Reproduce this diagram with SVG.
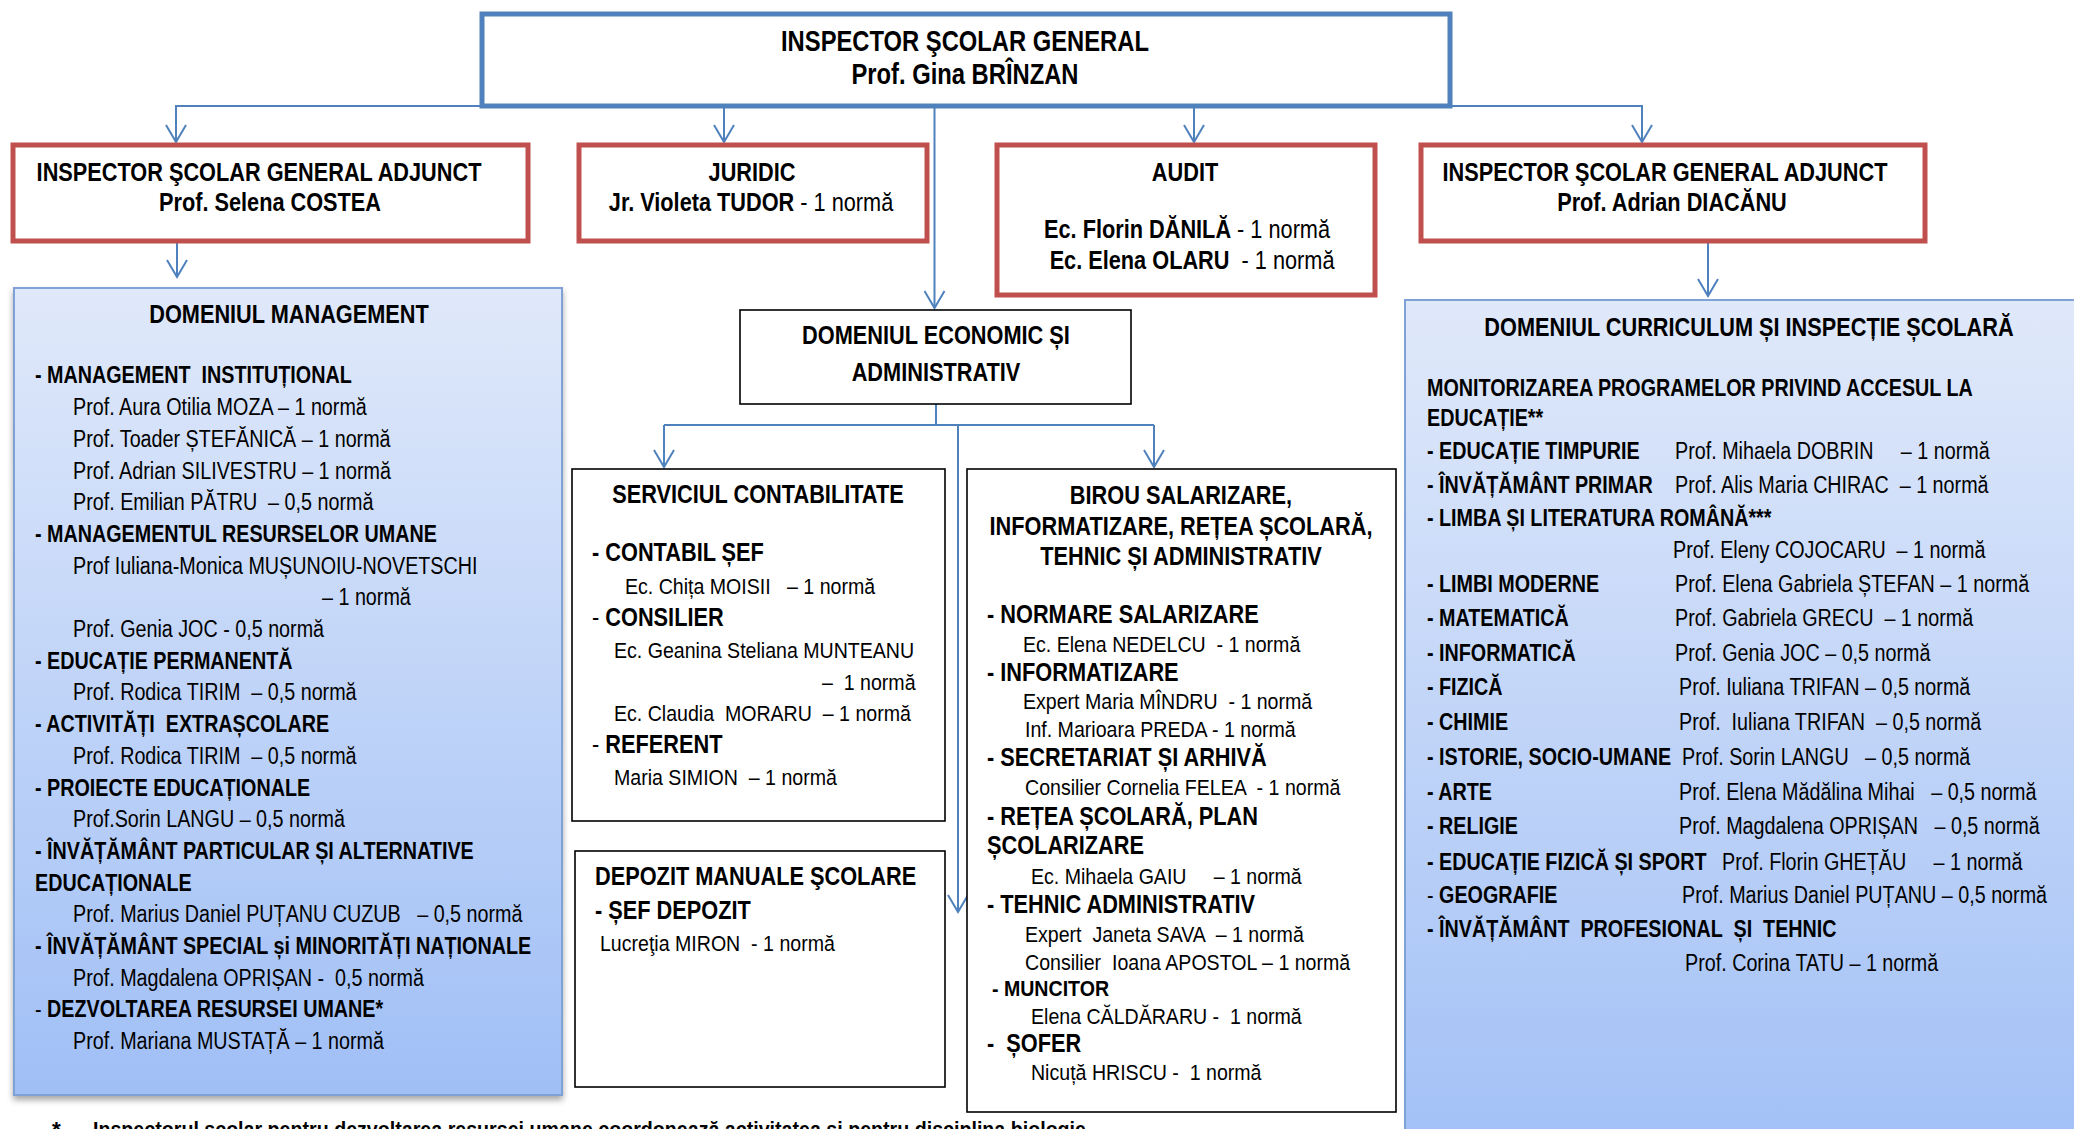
<svg xmlns="http://www.w3.org/2000/svg" width="2074" height="1129" viewBox="0 0 2074 1129" xml:space="preserve">
<defs>
<style>
text{white-space:pre}
.nb,.nr{font-family:'Liberation Sans',Arial,sans-serif;fill:#000;transform-box:fill-box;transform-origin:left center;transform:scaleX(0.82)}
.nb{font-weight:700}
.nr{font-weight:400}
.w84{transform:scaleX(0.84)}
.mb,.mr{font-family:'Liberation Sans',Arial,sans-serif;fill:#000;transform-box:fill-box;transform-origin:left center;transform:scaleX(0.87)}
.mb{font-weight:700}
.mr{font-weight:400}
.ab{font-family:'Liberation Sans',Arial,sans-serif;font-weight:700;fill:#000}
.b{font-weight:700}
.r{font-weight:400}
.f29{font-size:29px}
.f26{font-size:26.5px}
.f25{font-size:25px}
.f23{font-size:23.5px}
.f22{font-size:22.5px}
.mid{text-anchor:middle;transform-origin:center}
.conn{fill:none;stroke:#4F81BD;stroke-width:2}
.redbox{fill:#fff;stroke:#C0504D;stroke-width:5}
.blkbox{fill:#fff;stroke:#000;stroke-width:1.6}
.dombox{stroke:#7FA2D6;stroke-width:2}
</style>
<linearGradient id="grad" x1="0" y1="0" x2="0" y2="1">
<stop offset="0" stop-color="#E0E9FA"/>
<stop offset="1" stop-color="#A0BFF6"/>
</linearGradient>
<filter id="shadow" x="-5%" y="-5%" width="115%" height="115%">
<feDropShadow dx="0" dy="4" stdDeviation="3" flood-color="#000" flood-opacity="0.35"/>
</filter>
<marker id="arr" markerUnits="userSpaceOnUse" orient="auto" markerWidth="40" markerHeight="40" refX="0" refY="0" viewBox="-20 -20 40 40" overflow="visible">
<path d="M-17,-10 L0,0 L-17,10" fill="none" stroke="#4F81BD" stroke-width="2"/>
</marker>
</defs>
<rect x="0" y="0" width="2074" height="1129" fill="#fff"/>

<g id="connectors">
<path class="conn" d="M480,106 H176 V142" marker-end="url(#arr)"/>
<path class="conn" d="M724,106 V142" marker-end="url(#arr)"/>
<path class="conn" d="M934.5,106 V308" marker-end="url(#arr)"/>
<path class="conn" d="M1194,106 V142" marker-end="url(#arr)"/>
<path class="conn" d="M1450,106 H1642 V142" marker-end="url(#arr)"/>
<path class="conn" d="M177,243 V277" marker-end="url(#arr)"/>
<path class="conn" d="M1708,243 V296" marker-end="url(#arr)"/>
<path class="conn" d="M936,404 V425"/>
<path class="conn" d="M664,425 H1154"/>
<path class="conn" d="M664,425 V467" marker-end="url(#arr)"/>
<path class="conn" d="M1154,425 V467" marker-end="url(#arr)"/>
<path class="conn" d="M958,425 V912" marker-end="url(#arr)"/>
</g>

<g id="inspector-general">
<rect x="482" y="14" width="968" height="92" fill="#fff" stroke="#4F81BD" stroke-width="5"/>
<text class="nb f29 mid" x="965" y="51">INSPECTOR ŞCOLAR GENERAL</text>
<text class="nb f29 mid" x="965" y="84">Prof. Gina BRÎNZAN</text>
</g>

<g id="adjunct-costea">
<rect class="redbox" x="13" y="145" width="515" height="96"/>
<text class="nb f26 mid" x="259" y="181">INSPECTOR ŞCOLAR GENERAL ADJUNCT</text>
<text class="nb f26 mid" x="270" y="211">Prof. Selena COSTEA</text>
</g>

<g id="juridic">
<rect class="redbox" x="579" y="145" width="348" height="96"/>
<text class="nb f26 mid" x="752" y="181">JURIDIC</text>
<text class="nb f26 mid" x="751" y="211">Jr. Violeta TUDOR<tspan class="r"> - 1 normă</tspan></text>
</g>

<g id="audit">
<rect class="redbox" x="997" y="145" width="378" height="150"/>
<text class="nb f26 mid" x="1185" y="181">AUDIT</text>
<text class="nb f26 mid" x="1187" y="238">Ec. Florin DĂNILĂ<tspan class="r"> - 1 normă</tspan></text>
<text class="nb f26 mid" x="1192" y="269">Ec. Elena OLARU <tspan class="r"> - 1 normă</tspan></text>
</g>

<g id="adjunct-diacanu">
<rect class="redbox" x="1421" y="145" width="504" height="96"/>
<text class="nb f26 mid" x="1665" y="181">INSPECTOR ŞCOLAR GENERAL ADJUNCT</text>
<text class="nb f26 mid" x="1672" y="211">Prof. Adrian DIACĂNU</text>
</g>

<g id="domeniul-management">
<rect class="dombox" x="14" y="288" width="548" height="807" fill="url(#grad)" filter="url(#shadow)"/>
<text class="nb f26 mid" x="289" y="323">DOMENIUL MANAGEMENT</text>
<text class="nb w84 f23" x="35" y="383.5">- MANAGEMENT  INSTITUȚIONAL</text>
<text class="nr w84 f23" x="73" y="415.2">Prof. Aura Otilia MOZA – 1 normă</text>
<text class="nr w84 f23" x="73" y="446.9">Prof. Toader ȘTEFĂNICĂ – 1 normă</text>
<text class="nr w84 f23" x="73" y="478.6">Prof. Adrian SILIVESTRU – 1 normă</text>
<text class="nr w84 f23" x="73" y="510.3">Prof. Emilian PĂTRU  – 0,5 normă</text>
<text class="nb w84 f23" x="35" y="542">- MANAGEMENTUL RESURSELOR UMANE</text>
<text class="nr w84 f23" x="73" y="573.7">Prof Iuliana-Monica MUȘUNOIU-NOVETSCHI</text>
<text class="nr w84 f23" x="322" y="605.4">– 1 normă</text>
<text class="nr w84 f23" x="73" y="637.1">Prof. Genia JOC - 0,5 normă</text>
<text class="nb w84 f23" x="35" y="668.8">- EDUCAȚIE PERMANENTĂ</text>
<text class="nr w84 f23" x="73" y="700.5">Prof. Rodica TIRIM  – 0,5 normă</text>
<text class="nb w84 f23" x="35" y="732.2">- ACTIVITĂȚI  EXTRAȘCOLARE</text>
<text class="nr w84 f23" x="73" y="763.9">Prof. Rodica TIRIM  – 0,5 normă</text>
<text class="nb w84 f23" x="35" y="795.6">- PROIECTE EDUCAȚIONALE</text>
<text class="nr w84 f23" x="73" y="827.3">Prof.Sorin LANGU – 0,5 normă</text>
<text class="nb w84 f23" x="35" y="859">- ÎNVĂȚĂMÂNT PARTICULAR ȘI ALTERNATIVE</text>
<text class="nb w84 f23" x="35" y="890.7">EDUCAȚIONALE</text>
<text class="nr w84 f23" x="73" y="922.4">Prof. Marius Daniel PUȚANU CUZUB   – 0,5 normă</text>
<text class="nb w84 f23" x="35" y="954.1">- ÎNVĂȚĂMÂNT SPECIAL și MINORITĂȚI NAȚIONALE</text>
<text class="nr w84 f23" x="73" y="985.8">Prof. Magdalena OPRIȘAN -  0,5 normă</text>
<text class="nb w84 f23" x="35" y="1017.5"><tspan class="r">- </tspan>DEZVOLTAREA RESURSEI UMANE*</text>
<text class="nr w84 f23" x="73" y="1049.2">Prof. Mariana MUSTAȚĂ – 1 normă</text>
</g>

<g id="domeniul-economic">
<rect class="blkbox" x="740" y="310" width="391" height="94"/>
<text class="mb f25 mid" x="936" y="344">DOMENIUL ECONOMIC ȘI</text>
<text class="mb f25 mid" x="936" y="381">ADMINISTRATIV</text>
</g>

<g id="serviciul-contabilitate">
<rect class="blkbox" x="572" y="469" width="373" height="352"/>
<text class="mb f25 mid" x="758" y="503">SERVICIUL CONTABILITATE</text>
<text class="mb f25" x="592" y="561">- CONTABIL ȘEF</text>
<text class="mr f22" x="625" y="594">Ec. Chița MOISII   – 1 normă</text>
<text class="mb f25" x="592" y="626"><tspan class="r">- </tspan>CONSILIER</text>
<text class="mr f22" x="614" y="658">Ec. Geanina Steliana MUNTEANU</text>
<text class="mr f22" x="822" y="690">–  1 normă</text>
<text class="mr f22" x="614" y="721">Ec. Claudia  MORARU  – 1 normă</text>
<text class="mb f25" x="592" y="753"><tspan class="r">- </tspan>REFERENT</text>
<text class="mr f22" x="614" y="785">Maria SIMION  – 1 normă</text>
</g>

<g id="depozit-manuale">
<rect class="blkbox" x="575" y="851" width="370" height="236"/>
<text class="mb f25" x="595" y="885">DEPOZIT MANUALE ŞCOLARE</text>
<text class="mb f25" x="595" y="919">- ȘEF DEPOZIT</text>
<text class="mr f22" x="600" y="951">Lucreţia MIRON  - 1 normă</text>
</g>

<g id="birou-salarizare">
<rect class="blkbox" x="967" y="469" width="429" height="643"/>
<text class="mb f25 mid" x="1181" y="504">BIROU SALARIZARE,</text>
<text class="mb f25 mid" x="1181" y="535">INFORMATIZARE, REȚEA ȘCOLARĂ,</text>
<text class="mb f25 mid" x="1181" y="565">TEHNIC ȘI ADMINISTRATIV</text>
<text class="mb f25" x="987" y="623">- NORMARE SALARIZARE</text>
<text class="mr f22" x="1023" y="652">Ec. Elena NEDELCU  - 1 normă</text>
<text class="mb f25" x="987" y="681">- INFORMATIZARE</text>
<text class="mr f22" x="1023" y="709">Expert Maria MÎNDRU  - 1 normă</text>
<text class="mr f22" x="1025" y="737">Inf. Marioara PREDA - 1 normă</text>
<text class="mb f25" x="987" y="766">- SECRETARIAT ȘI ARHIVĂ</text>
<text class="mr f22" x="1025" y="795">Consilier Cornelia FELEA  - 1 normă</text>
<text class="mb f25" x="987" y="825">- REȚEA ȘCOLARĂ, PLAN</text>
<text class="mb f25" x="987" y="854">ȘCOLARIZARE</text>
<text class="mr f22" x="1031" y="884">Ec. Mihaela GAIU     – 1 normă</text>
<text class="mb f25" x="987" y="913">- TEHNIC ADMINISTRATIV</text>
<text class="mr f22" x="1025" y="942">Expert  Janeta SAVA  – 1 normă</text>
<text class="mr f22" x="1025" y="970">Consilier  Ioana APOSTOL – 1 normă</text>
<text class="mb f22" x="992" y="996">- MUNCITOR</text>
<text class="mr f22" x="1031" y="1024">Elena CĂLDĂRARU -  1 normă</text>
<text class="mb f25" x="987" y="1052">-  ȘOFER</text>
<text class="mr f22" x="1031" y="1080">Nicuță HRISCU -  1 normă</text>
</g>

<g id="domeniul-curriculum">
<rect class="dombox" x="1405" y="300" width="700" height="880" fill="url(#grad)"/>
<text class="nb f26 mid" x="1749" y="336.5">DOMENIUL CURRICULUM ȘI INSPECȚIE ȘCOLARĂ</text>
<text class="nb w84 f23" x="1427" y="396.5">MONITORIZAREA PROGRAMELOR PRIVIND ACCESUL LA</text>
<text class="nb w84 f23" x="1427" y="426.5">EDUCAȚIE**</text>
<text class="nb w84 f23" x="1427" y="459.5">- EDUCAȚIE TIMPURIE</text>
<text class="nr w84 f23" x="1675" y="459.5">Prof. Mihaela DOBRIN     – 1 normă</text>
<text class="nb w84 f23" x="1427" y="493.5">- ÎNVĂȚĂMÂNT PRIMAR</text>
<text class="nr w84 f23" x="1675" y="493.5">Prof. Alis Maria CHIRAC  – 1 normă</text>
<text class="nb w84 f23" x="1427" y="526.5">- LIMBA ȘI LITERATURA ROMÂNĂ***</text>
<text class="nr w84 f23" x="1673" y="558.5">Prof. Eleny COJOCARU  – 1 normă</text>
<text class="nb w84 f23" x="1427" y="592.5">- LIMBI MODERNE</text>
<text class="nr w84 f23" x="1675" y="592.5">Prof. Elena Gabriela ȘTEFAN – 1 normă</text>
<text class="nb w84 f23" x="1427" y="626.5">- MATEMATICĂ</text>
<text class="nr w84 f23" x="1675" y="626.5">Prof. Gabriela GRECU  – 1 normă</text>
<text class="nb w84 f23" x="1427" y="661">- INFORMATICĂ</text>
<text class="nr w84 f23" x="1675" y="661">Prof. Genia JOC – 0,5 normă</text>
<text class="nb w84 f23" x="1427" y="695.5">- FIZICĂ</text>
<text class="nr w84 f23" x="1679" y="695.5">Prof. Iuliana TRIFAN – 0,5 normă</text>
<text class="nb w84 f23" x="1427" y="730.5">- CHIMIE</text>
<text class="nr w84 f23" x="1679" y="730.5">Prof.  Iuliana TRIFAN  – 0,5 normă</text>
<text class="nb w84 f23" x="1427" y="765.5">- ISTORIE, SOCIO-UMANE</text>
<text class="nr w84 f23" x="1682" y="765.5">Prof. Sorin LANGU   – 0,5 normă</text>
<text class="nb w84 f23" x="1427" y="800.5">- ARTE</text>
<text class="nr w84 f23" x="1679" y="800.5">Prof. Elena Mădălina Mihai   – 0,5 normă</text>
<text class="nb w84 f23" x="1427" y="834.5">- RELIGIE</text>
<text class="nr w84 f23" x="1679" y="834.5">Prof. Magdalena OPRIȘAN   – 0,5 normă</text>
<text class="nb w84 f23" x="1427" y="870.5">- EDUCAȚIE FIZICĂ ȘI SPORT</text>
<text class="nr w84 f23" x="1722" y="870.5">Prof. Florin GHEȚĂU     – 1 normă</text>
<text class="nb w84 f23" x="1427" y="903.5"><tspan class="r">- </tspan>GEOGRAFIE</text>
<text class="nr w84 f23" x="1682" y="903.5">Prof. Marius Daniel PUȚANU – 0,5 normă</text>
<text class="nb w84 f23" x="1427" y="937.5">- ÎNVĂȚĂMÂNT  PROFESIONAL  ȘI  TEHNIC</text>
<text class="nr w84 f23" x="1685" y="971.5">Prof. Corina TATU – 1 normă</text>
</g>

<g id="footnote">
<text class="ab f22" x="52" y="1137">*</text>
<text class="ab f22" x="93" y="1137" textLength="993" lengthAdjust="spacingAndGlyphs">Inspectorul școlar pentru dezvoltarea resursei umane coordonează activitatea și pentru disciplina biologie</text>
</g>
</svg>
